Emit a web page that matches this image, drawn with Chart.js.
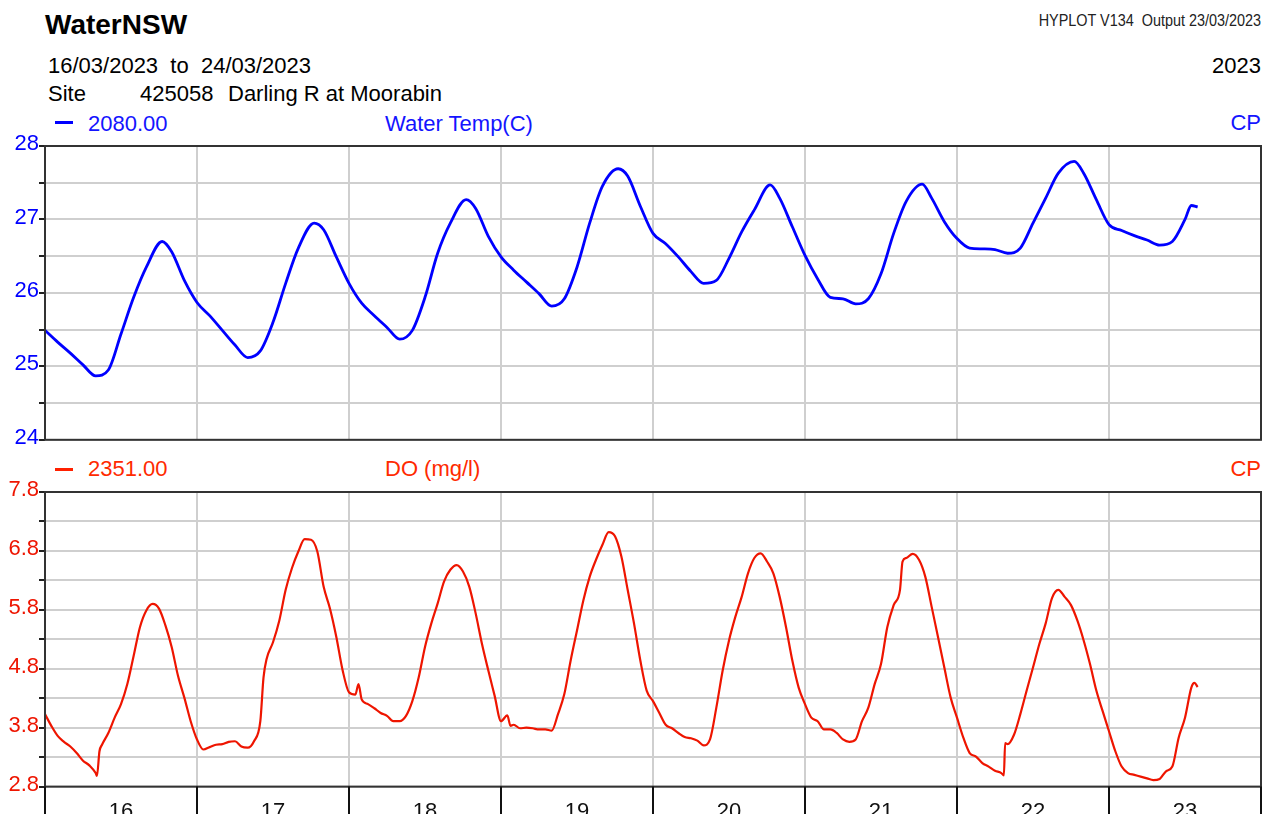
<!DOCTYPE html>
<html>
<head>
<meta charset="utf-8">
<script src="https://cdn.jsdelivr.net/npm/chart.js@4"></script>
<style>
  html, body { margin: 0; padding: 0; background: #fff; overflow: hidden; }
  body { width: 1273px; height: 814px; position: relative; font-family: 'Liberation Sans', Arial, sans-serif; }
  .t { position: absolute; white-space: pre; line-height: 1; }
  canvas { position: absolute; left: 0; }
</style>
</head>
<body>
<div class="t" style="left:45px;top:11px;font-size:28px;font-weight:bold;">WaterNSW</div>
<div class="t" style="right:12px;top:13px;font-size:16px;color:#222;transform:scaleX(0.9);transform-origin:right;">HYPLOT V134  Output 23/03/2023</div>
<div class="t" style="left:48px;top:55px;font-size:22px;">16/03/2023  to  24/03/2023</div>
<div class="t" style="right:12px;top:55px;font-size:22px;">2023</div>
<div class="t" style="left:48px;top:83px;font-size:22px;">Site</div>
<div class="t" style="left:140px;top:83px;font-size:22px;">425058</div>
<div class="t" style="left:228px;top:83px;font-size:22px;">Darling R at Moorabin</div>

<div style="position:absolute;left:55px;top:121px;width:18px;height:3px;background:#0000ff;"></div>
<div class="t" style="left:88px;top:113px;font-size:22px;color:#1414ff;">2080.00</div>
<div class="t" style="left:385px;top:113px;font-size:22px;color:#1414ff;">Water Temp(C)</div>
<div class="t" style="right:12px;top:112px;font-size:22px;color:#1414ff;">CP</div>

<div style="position:absolute;left:55px;top:468px;width:18px;height:3px;background:#ff2000;"></div>
<div class="t" style="left:88px;top:458px;font-size:22px;color:#ff2a00;">2351.00</div>
<div class="t" style="left:385px;top:458px;font-size:22px;color:#ff2a00;">DO (mg/l)</div>
<div class="t" style="right:12px;top:458px;font-size:22px;color:#ff2a00;">CP</div>

<canvas id="tempChart" width="1273" height="323" style="top:130px"></canvas>
<canvas id="doChart" width="1273" height="361" style="top:476px"></canvas>

<script>
// day labels under the bottom panel (noon of each day)
const dayLabels = ['16', '17', '18', '19', '20', '21', '22', '23'];

// Water temp (C), read every 2 h, day by day
const tempHours = [0, 2, 4, 6, 8, 10, 12, 14, 16, 18.5, 20, 22];
const temp16 = [25.49, 25.33, 25.18, 25.02, 24.87, 24.95, 25.44, 25.94, 26.35, 26.70, 26.56, 26.17];
const temp17 = [25.87, 25.69, 25.49, 25.29, 25.12, 25.21, 25.60, 26.13, 26.61, 26.95, 26.86, 26.49];
const temp18 = [26.13, 25.86, 25.69, 25.53, 25.37, 25.49, 25.94, 26.54, 26.95, 27.27, 27.15, 26.77];
const temp19 = [26.49, 26.31, 26.15, 25.99, 25.82, 25.92, 26.35, 26.95, 27.45, 27.69, 27.59, 27.18];
const temp20 = [26.81, 26.67, 26.49, 26.29, 26.13, 26.17, 26.47, 26.83, 27.13, 27.47, 27.29, 26.90];
const temp21 = [26.51, 26.19, 25.94, 25.92, 25.85, 25.92, 26.26, 26.81, 27.25, 27.48, 27.29, 26.97];
const temp22 = [26.74, 26.61, 26.60, 26.59, 26.54, 26.61, 26.95, 27.29, 27.63, 27.79, 27.63, 27.27];
const temp23Hours = [0, 2, 4, 6, 8, 10, 12, 13, 14];
const temp23 = [26.93, 26.85, 26.78, 26.72, 26.65, 26.70, 27.00, 27.19, 27.17];

// Dissolved oxygen (mg/l), hourly readings
const do16 = [4.03, 3.83, 3.66, 3.56, 3.48, 3.37, 3.24, 3.16, 3.03, 3.51, 3.71, 3.97, 4.20, 4.54, 5.02, 5.51, 5.79, 5.90, 5.82, 5.54, 5.17, 4.68, 4.31, 3.91];
const do17 = [3.60, 3.43, 3.47, 3.51, 3.52, 3.56, 3.57, 3.48, 3.46, 3.57, 3.91, 4.97, 5.25, 5.62, 6.14, 6.51, 6.79, 7.00, 6.99, 6.79, 6.19, 5.82, 5.34, 4.77];
const do18 = [4.40, 4.36, 4.28, 4.20, 4.13, 4.05, 4.00, 3.91, 3.91, 4.00, 4.25, 4.65, 5.17, 5.57, 5.91, 6.28, 6.48, 6.56, 6.45, 6.19, 5.74, 5.22, 4.77, 4.34];
const do19 = [3.91, 4.01, 3.85, 3.79, 3.80, 3.79, 3.77, 3.77, 3.75, 4.03, 4.37, 4.94, 5.45, 5.96, 6.36, 6.65, 6.90, 7.12, 7.05, 6.71, 6.14, 5.57, 4.94, 4.43];
const do20 = [4.25, 4.05, 3.85, 3.79, 3.71, 3.64, 3.62, 3.58, 3.50, 3.60, 4.14, 4.77, 5.28, 5.68, 6.02, 6.42, 6.68, 6.76, 6.62, 6.42, 6.02, 5.51, 4.94, 4.48];
const do21 = [4.20, 3.97, 3.91, 3.77, 3.77, 3.71, 3.60, 3.56, 3.60, 3.91, 4.14, 4.54, 4.88, 5.51, 5.88, 6.14, 6.68, 6.75, 6.65, 6.36, 5.85, 5.34, 4.82, 4.31];
const do22 = [3.97, 3.63, 3.37, 3.31, 3.20, 3.14, 3.07, 3.03, 3.52, 3.68, 4.03, 4.43, 4.82, 5.22, 5.57, 6.00, 6.14, 6.02, 5.88, 5.62, 5.28, 4.88, 4.43, 4.08];
const do23 = [3.74, 3.40, 3.14, 3.03, 3.00, 2.97, 2.94, 2.91, 2.93, 3.06, 3.14, 3.63, 3.97, 4.48, 4.49];
// sharp steps between the hourly readings: [hours since 16/03 00:00, value]
const doSteps = [[8.2, 2.98], [8.6, 3.40], [34.5, 4.65], [49.5, 4.54], [73.5, 3.83], [135.4, 6.62], [151.4, 2.99], [151.6, 3.54], [181.5, 4.56]];

const BLUE = '#0000ff';
const RED = '#ee1500';
const GRID = '#cfcfcf';
const FONT = { family: "'Liberation Sans', Arial, sans-serif", size: 22 };

function byDay(days, hours) {
  const pts = [];
  days.forEach((vals, d) => {
    const hrs = Array.isArray(hours[0]) ? hours[d] : hours;
    vals.forEach((v, i) => pts.push({ x: d * 24 + hrs[i], y: v }));
  });
  return pts;
}

const tempData = byDay(
  [temp16, temp17, temp18, temp19, temp20, temp21, temp22, temp23],
  [tempHours, tempHours, tempHours, tempHours, tempHours, tempHours, tempHours, temp23Hours]
);

const hourly = [...Array(24).keys()];
const doData = byDay([do16, do17, do18, do19, do20, do21, do22, do23], hourly)
  .concat(doSteps.map(([x, y]) => ({ x, y })))
  .sort((a, b) => a.x - b.x);

const frame = {
  id: 'frame',
  afterDraw(chart, args, opts) {
    const { ctx, chartArea: a } = chart;
    ctx.save();
    ctx.strokeStyle = '#333';
    ctx.lineWidth = 2;
    ctx.strokeRect(a.left, a.top, a.right - a.left, a.bottom - a.top);
    if (opts.dayTicks) {
      const xs = chart.scales.x;
      ctx.strokeStyle = '#111';
      ctx.lineWidth = 2;
      for (let h = 0; h <= 192; h += 24) {
        const px = Math.round(xs.getPixelForValue(h));
        ctx.beginPath();
        ctx.moveTo(px, a.bottom);
        ctx.lineTo(px, a.bottom + 40);
        ctx.stroke();
      }
    }
    ctx.restore();
  }
};

function makeChart(id, data, color, width, yMin, yMax, showX) {
  return new Chart(document.getElementById(id), {
    type: 'line',
    data: { datasets: [{ data, borderColor: color, borderWidth: width, pointRadius: 0, cubicInterpolationMode: 'monotone', fill: false }] },
    options: {
      responsive: false,
      animation: false,
      layout: { padding: { left: 0, right: 12, top: 16, bottom: showX ? 0 : 12 } },
      plugins: { legend: { display: false }, tooltip: { enabled: false }, frame: { dayTicks: showX } },
      scales: {
        x: {
          type: 'linear', min: 0, max: 192,
          border: { display: false },
          grid: {
            drawTicks: false,
            lineWidth: 2,
            color: c => (c.tick && c.tick.value % 24 === 0) ? GRID : 'rgba(0,0,0,0)'
          },
          ticks: {
            display: showX, stepSize: 12, maxTicksLimit: 40, autoSkip: false, maxRotation: 0,
            padding: 12, color: '#111', font: FONT,
            callback: v => v % 24 === 12 ? dayLabels[(v - 12) / 24] : ''
          }
        },
        y: {
          min: yMin, max: yMax,
          afterFit: s => { s.width = 45; },
          border: { display: false },
          grid: { color: GRID, lineWidth: 2, tickColor: '#222', tickLength: 6 },
          ticks: {
            stepSize: 0.5, maxTicksLimit: 20, padding: 0, color, font: FONT, labelOffset: -2,
            callback: (v, i) => i % 2 === 0 ? (Number.isInteger(yMin) ? String(v) : v.toFixed(1)) : ''
          }
        }
      }
    },
    plugins: [frame]
  });
}

makeChart('tempChart', tempData, BLUE, 2.8, 24, 28, false);
makeChart('doChart', doData, RED, 2.2, 2.8, 7.8, true);
</script>
</body>
</html>
